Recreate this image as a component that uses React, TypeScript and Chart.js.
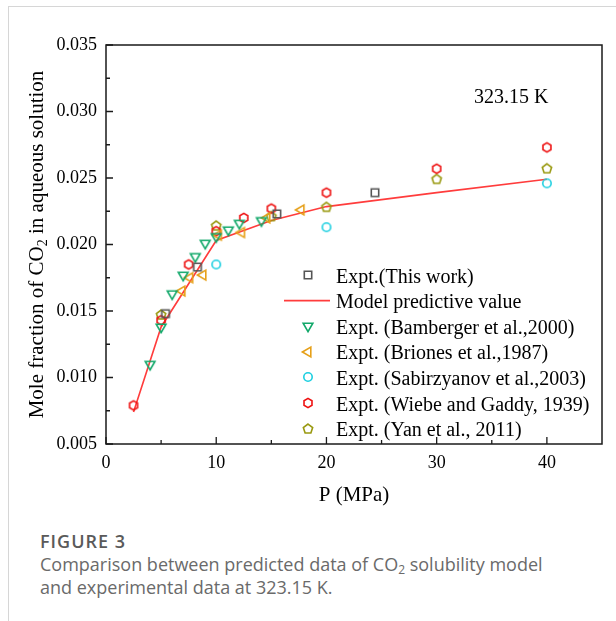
import React, { useEffect, useRef } from 'react';
import { Chart, registerables } from 'chart.js';

Chart.register(...registerables);

// CO2 solubility in water at 323.15 K: pressure (MPa) vs. CO2 mole fraction
const thisWorkP = [5.4, 8.3, 15.5, 24.4];
const thisWorkX = [0.0148, 0.0183, 0.0223, 0.0239];

const modelP = [2.5, 5, 10, 15, 20, 30, 40];
const modelX = [0.0074, 0.0138, 0.0203, 0.0218, 0.02285, 0.0239, 0.0249];

const bambergerP = [4.0, 5.0, 6.0, 7.0, 8.1, 9.0, 10.0, 11.1, 12.1, 14.1];
const bambergerX = [0.011, 0.0138, 0.0163, 0.0177, 0.0191, 0.0201, 0.0206, 0.0211, 0.0216, 0.0218];

const brionesP = [6.9, 7.6, 8.8, 10.2, 12.3, 14.6, 17.7];
const brionesX = [0.0165, 0.0175, 0.0177, 0.0207, 0.0209, 0.022, 0.0226];

const sabirzyanovP = [10, 20, 40];
const sabirzyanovX = [0.0185, 0.0213, 0.0246];

const wiebeP = [2.5, 5, 7.5, 10, 12.5, 15, 20, 30, 40];
const wiebeX = [0.0079, 0.0143, 0.0185, 0.021, 0.022, 0.0227, 0.0239, 0.0257, 0.0273];

const yanP = [5, 10, 15, 20, 30, 40];
const yanX = [0.0147, 0.0214, 0.0221, 0.0228, 0.0249, 0.0257];

const xMin = 0;
const xMax = 45;
const xStep = 10;
const yMin = 0.005;
const yMax = 0.035;
const yStep = 0.005;

const legendLabels = [
  'Expt.(This work)',
  'Model predictive value',
  'Expt. (Bamberger et al.,2000)',
  'Expt. (Briones et al.,1987)',
  'Expt. (Sabirzyanov et al.,2003)',
  'Expt. (Wiebe and Gaddy, 1939)',
  'Expt. (Yan et al., 2011)',
];
const temperatureLabel = '323.15 K';
const xTitle = 'P (MPa)';
const yTitleParts = ['Mole fraction of CO', '2', ' in aqueous solution'];

const SERIF = '"Liberation Serif", "Times New Roman", serif';

const COLORS = {
  thisWork: '#555555',
  model: '#ff3c3c',
  bamberger: '#12a86a',
  briones: '#e6a019',
  sabirzyanov: '#1ccfe0',
  wiebe: '#ee1111',
  yan: '#999910',
};

type Shape = 'square' | 'triDown' | 'triLeft' | 'circle' | 'hexagon' | 'pentagon';

function polygon(g: CanvasRenderingContext2D, cx: number, cy: number, r: number, n: number, start: number) {
  for (let i = 0; i < n; i++) {
    const a = start + (i * 2 * Math.PI) / n;
    const px = cx + r * Math.cos(a);
    const py = cy + r * Math.sin(a);
    if (i === 0) g.moveTo(px, py);
    else g.lineTo(px, py);
  }
  g.closePath();
}

// Hollow marker sprites used as point styles and in the legend
function makeMarker(shape: Shape, color: string): HTMLCanvasElement {
  const s = 16;
  const c = s / 2;
  const cv = document.createElement('canvas');
  cv.width = s;
  cv.height = s;
  const g = cv.getContext('2d')!;
  g.strokeStyle = color;
  g.lineWidth = 1.6;
  g.lineJoin = 'miter';
  g.beginPath();
  switch (shape) {
    case 'square':
      g.rect(c - 3.7, c - 3.7, 7.4, 7.4);
      break;
    case 'triDown':
      polygon(g, c, c, 5.6, 3, Math.PI / 2);
      break;
    case 'triLeft':
      polygon(g, c, c, 5.6, 3, Math.PI);
      break;
    case 'circle':
      g.arc(c, c, 4.2, 0, Math.PI * 2);
      break;
    case 'hexagon':
      polygon(g, c, c, 4.6, 6, -Math.PI / 2);
      break;
    case 'pentagon':
      polygon(g, c, c, 4.9, 5, -Math.PI / 2);
      break;
  }
  g.stroke();
  return cv;
}

function toPoints(xs: number[], ys: number[]) {
  return xs.map((x, i) => ({ x, y: ys[i] }));
}

export default function App() {
  const canvasRef = useRef<HTMLCanvasElement | null>(null);

  useEffect(() => {
    const canvas = canvasRef.current;
    if (!canvas) return;

    const markers = {
      thisWork: makeMarker('square', COLORS.thisWork),
      bamberger: makeMarker('triDown', COLORS.bamberger),
      briones: makeMarker('triLeft', COLORS.briones),
      sabirzyanov: makeMarker('circle', COLORS.sabirzyanov),
      wiebe: makeMarker('hexagon', COLORS.wiebe),
      yan: makeMarker('pentagon', COLORS.yan),
    };
    const legendMarkers: (HTMLCanvasElement | null)[] = [
      markers.thisWork,
      null,
      markers.bamberger,
      markers.briones,
      markers.sabirzyanov,
      markers.wiebe,
      markers.yan,
    ];

    const decor = {
      id: 'decor',
      afterDraw(chart: any) {
        const { ctx, chartArea: a, scales } = chart;
        const xs = scales.x;
        const ys = scales.y;
        ctx.save();

        // plot frame
        ctx.strokeStyle = '#1a1a1a';
        ctx.lineWidth = 1.5;
        ctx.strokeRect(a.left, a.top, a.right - a.left, a.bottom - a.top);

        // inward major and minor ticks on the bottom and left axes
        ctx.lineWidth = 1.3;
        ctx.beginPath();
        const xt = xs.ticks.map((t: any) => t.value);
        xt.forEach((v: number, i: number) => {
          const px = xs.getPixelForValue(v);
          ctx.moveTo(px, a.bottom);
          ctx.lineTo(px, a.bottom - 7);
          const mid = i < xt.length - 1 ? (v + xt[i + 1]) / 2 : v + xStep / 2;
          if (mid < xs.max) {
            const mx = xs.getPixelForValue(mid);
            ctx.moveTo(mx, a.bottom);
            ctx.lineTo(mx, a.bottom - 4);
          }
        });
        const yt = ys.ticks.map((t: any) => t.value);
        yt.forEach((v: number, i: number) => {
          const py = ys.getPixelForValue(v);
          ctx.moveTo(a.left, py);
          ctx.lineTo(a.left + 7, py);
          if (i < yt.length - 1) {
            const my = ys.getPixelForValue((v + yt[i + 1]) / 2);
            ctx.moveTo(a.left, my);
            ctx.lineTo(a.left + 4, my);
          }
        });
        ctx.stroke();

        ctx.fillStyle = '#000';
        ctx.textBaseline = 'alphabetic';

        // x axis title
        ctx.font = `21px ${SERIF}`;
        ctx.textAlign = 'center';
        ctx.fillText(xTitle, (a.left + a.right) / 2, a.bottom + 57);

        // y axis title with subscript
        ctx.save();
        ctx.translate(a.left - 63, (a.top + a.bottom) / 2);
        ctx.rotate(-Math.PI / 2);
        ctx.textAlign = 'left';
        const mainFont = `21px ${SERIF}`;
        const subFont = `14px ${SERIF}`;
        ctx.font = mainFont;
        const w0 = ctx.measureText(yTitleParts[0]).width;
        const w2 = ctx.measureText(yTitleParts[2]).width;
        ctx.font = subFont;
        const w1 = ctx.measureText(yTitleParts[1]).width;
        let cx = -(w0 + w1 + w2) / 2;
        ctx.font = mainFont;
        ctx.fillText(yTitleParts[0], cx, 0);
        cx += w0;
        ctx.font = subFont;
        ctx.fillText(yTitleParts[1], cx, 4);
        cx += w1;
        ctx.font = mainFont;
        ctx.fillText(yTitleParts[2], cx, 0);
        ctx.restore();

        // temperature annotation
        ctx.font = `20px ${SERIF}`;
        ctx.textAlign = 'left';
        ctx.fillText(temperatureLabel, a.left + 368, a.top + 58);

        // legend
        const mx = a.left + 202;
        const tx = a.left + 230;
        const y0 = a.top + 230;
        const dy = 25.6;
        legendLabels.forEach((label, i) => {
          const ry = y0 + i * dy;
          const m = legendMarkers[i];
          if (m) {
            ctx.drawImage(m, Math.round(mx - m.width / 2), Math.round(ry - m.height / 2));
          } else {
            ctx.strokeStyle = COLORS.model;
            ctx.lineWidth = 1.6;
            ctx.beginPath();
            ctx.moveTo(mx - 24, ry);
            ctx.lineTo(mx + 22, ry);
            ctx.stroke();
          }
          ctx.fillStyle = '#000';
          ctx.font = `20px ${SERIF}`;
          ctx.fillText(label, tx, ry + 7.5);
        });

        ctx.restore();
      },
    };

    const scatter = (label: string, xs: number[], ys: number[], style: HTMLCanvasElement, order: number) => ({
      type: 'scatter' as const,
      label,
      data: toPoints(xs, ys),
      pointStyle: style,
      pointRadius: 5,
      pointHoverRadius: 5,
      showLine: false,
      order,
    });

    const chart = new Chart(canvas, {
      type: 'scatter',
      data: {
        datasets: [
          scatter(legendLabels[0], thisWorkP, thisWorkX, markers.thisWork, 1),
          {
            type: 'line',
            label: legendLabels[1],
            data: toPoints(modelP, modelX),
            borderColor: COLORS.model,
            borderWidth: 1.6,
            pointRadius: 0,
            fill: false,
            tension: 0,
            order: 10,
          } as any,
          scatter(legendLabels[2], bambergerP, bambergerX, markers.bamberger, 2),
          scatter(legendLabels[3], brionesP, brionesX, markers.briones, 3),
          scatter(legendLabels[4], sabirzyanovP, sabirzyanovX, markers.sabirzyanov, 4),
          scatter(legendLabels[5], wiebeP, wiebeX, markers.wiebe, 5),
          scatter(legendLabels[6], yanP, yanX, markers.yan, 6),
        ],
      },
      options: {
        responsive: false,
        animation: false,
        devicePixelRatio: 1,
        layout: { padding: { top: 45, right: 14, left: 0, bottom: 0 } },
        plugins: {
          legend: { display: false },
          tooltip: { enabled: false },
          title: { display: false },
        },
        scales: {
          x: {
            type: 'linear',
            min: xMin,
            max: xMax,
            grid: { display: false, drawTicks: false },
            border: { display: false },
            ticks: {
              stepSize: xStep,
              includeBounds: false,
              padding: 8,
              color: '#000',
              font: { family: SERIF, size: 18 },
              maxRotation: 0,
            },
            afterFit(scale: any) {
              scale.height = 76;
            },
          },
          y: {
            type: 'linear',
            min: yMin,
            max: yMax,
            grid: { display: false, drawTicks: false },
            border: { display: false },
            ticks: {
              stepSize: yStep,
              padding: 9,
              color: '#000',
              font: { family: SERIF, size: 18 },
              callback: (v: any) => Number(v).toFixed(3),
            },
            afterFit(scale: any) {
              scale.width = 106;
            },
          },
        },
      },
      plugins: [decor],
    });

    return () => chart.destroy();
  }, []);

  return (
    <div
      style={{
        position: 'absolute',
        left: 0,
        top: 0,
        width: 616,
        height: 621,
        background: '#fff',
        overflow: 'hidden',
      }}
    >
      <div
        style={{
          position: 'absolute',
          left: 8,
          top: 6,
          right: -2,
          bottom: -2,
          borderTop: '1px solid #d6d6d6',
          borderLeft: '1px solid #d6d6d6',
        }}
      />
      <canvas
        ref={canvasRef}
        width={616}
        height={520}
        style={{ position: 'absolute', left: 0, top: 0, width: 616, height: 520 }}
      />
      <div
        style={{
          position: 'absolute',
          left: 40,
          top: 530,
          width: 570,
          fontFamily: '"Open Sans", "Noto Sans", sans-serif',
          color: '#6a6a6a',
        }}
      >
        <div style={{ fontSize: 18, fontWeight: 600, color: '#5a5a5a', lineHeight: '23px', letterSpacing: 1 }}>
          FIGURE 3
        </div>
        <div style={{ fontSize: 18, lineHeight: '23px', whiteSpace: 'nowrap' }}>
          Comparison between predicted data of CO<sub style={{ fontSize: 12, verticalAlign: '-3px', lineHeight: 0 }}>2</sub> solubility model
          <br />
          and experimental data at 323.15 K.
        </div>
      </div>
    </div>
  );
}
